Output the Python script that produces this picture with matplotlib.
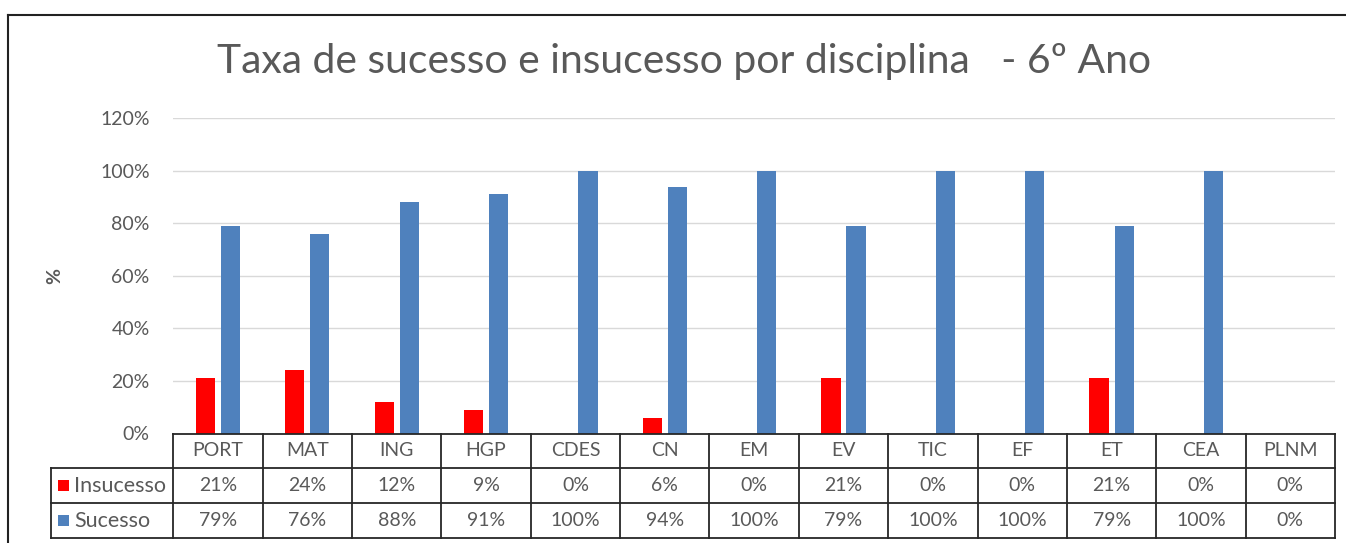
import matplotlib
matplotlib.use('Agg')
import matplotlib.pyplot as plt
from matplotlib.patches import Rectangle
from matplotlib.lines import Line2D
import numpy as np

categories = ['PORT', 'MAT', 'ING', 'HGP', 'CDES', 'CN', 'EM', 'EV', 'TIC', 'EF', 'ET', 'CEA', 'PLNM']
insucesso = [21, 24, 12, 9, 0, 6, 0, 21, 0, 0, 21, 0, 0]
sucesso = [79, 76, 88, 91, 100, 94, 100, 79, 100, 100, 79, 100, 0]
series_names = ['Insucesso', 'Sucesso']
yticks = [0, 20, 40, 60, 80, 100, 120]
title = 'Taxa de sucesso e insucesso por disciplina   - 6º Ano'

RED = '#FF0000'
BLUE = '#4F81BD'
TXT = '#595959'
EDGE = '#262626'
W, H = 1346, 543
AX_L, AX_R, AX_T, AX_B = 173.3, 1335.0, 118.3, 433.5
AXW, AXH = AX_R - AX_L, AX_B - AX_T

plt.rcParams['font.family'] = ['Lato', 'DejaVu Sans']
fig = plt.figure(figsize=(W / 100, H / 100), dpi=100)
ax = fig.add_axes([AX_L / W, (H - AX_B) / H, AXW / W, AXH / H])


def axx(px):
    return (px - AX_L) / AXW


def axy(py):
    return (AX_B - py) / AXH


x = np.arange(len(categories))
bw = 0.215
off = 0.14
ax.bar(x - off, insucesso, bw, color=RED, zorder=3)
ax.bar(x + off, sucesso, bw, color=BLUE, zorder=3)
ax.set_xlim(-0.5, len(categories) - 0.5)
ax.set_ylim(0, 120)
ax.set_yticks(yticks)
ax.set_yticklabels([f'{v}%' for v in yticks])
ax.tick_params(axis='y', length=0, pad=17, labelsize=14, labelcolor=TXT)
ax.set_xticks([])
ax.grid(axis='y', color='#D9D9D9', lw=1, zorder=0)
for s in ax.spines.values():
    s.set_visible(False)

fig.text(55 / W, (H - 276) / H, '%', rotation=90, ha='center', va='center',
         fontsize=14, color=TXT, fontweight='bold')

fig.text(684 / W, 1 - 62 / H, title, ha='center', va='center', fontsize=29.4, color=TXT)

# ---- data table drawn below the axes ----
n = len(categories)
cw = AXW / n
row_lines = [AX_B, 468.3, 503.3, 538.3]
lab_left = 50.7
tr = ax.transAxes


def hline(y, x0, x1):
    ax.add_line(Line2D([axx(x0), axx(x1)], [axy(y), axy(y)], transform=tr, color=EDGE,
                       lw=1.3, clip_on=False, zorder=6))


def vline(xp, y0, y1):
    ax.add_line(Line2D([axx(xp), axx(xp)], [axy(y0), axy(y1)], transform=tr, color=EDGE,
                       lw=1.3, clip_on=False, zorder=6))


hline(row_lines[0], AX_L, AX_R)
for yl in row_lines[1:]:
    hline(yl, lab_left, AX_R)
vline(lab_left, row_lines[1], row_lines[3])
for k in range(n + 1):
    vline(AX_L + k * cw, row_lines[0], row_lines[3])

rows = [categories,
        [f'{v}%' for v in insucesso],
        [f'{v}%' for v in sucesso]]
for r, texts in enumerate(rows):
    yc = (row_lines[r] + row_lines[r + 1]) / 2
    for j, t in enumerate(texts):
        ax.text(axx(AX_L + (j + 0.5) * cw), axy(yc), t, transform=tr, ha='center', va='center',
                fontsize=14, color=TXT, clip_on=False, zorder=7)

# row labels with colour keys
for i, (name, col) in enumerate(zip(series_names, [RED, BLUE])):
    yc = (row_lines[i + 1] + row_lines[i + 2]) / 2
    ax.add_patch(Rectangle((axx(58), axy(yc + 5.5)), 11 / AXW, 11 / AXH,
                           transform=tr, facecolor=col, edgecolor='none', clip_on=False, zorder=7))
    ax.text(axx(74), axy(yc), name, transform=tr, ha='left', va='center',
            fontsize=15.5, color=TXT, clip_on=False, zorder=7)

# chart border (left and top)
fig.add_artist(Line2D([8.3 / W, 8.3 / W], [0, 1 - 15 / H], transform=fig.transFigure, color='#222222', lw=1.5))
fig.add_artist(Line2D([8.3 / W, 1], [1 - 15 / H, 1 - 15 / H], transform=fig.transFigure, color='#222222', lw=1.5))

fig.savefig('out.png', dpi=100)
